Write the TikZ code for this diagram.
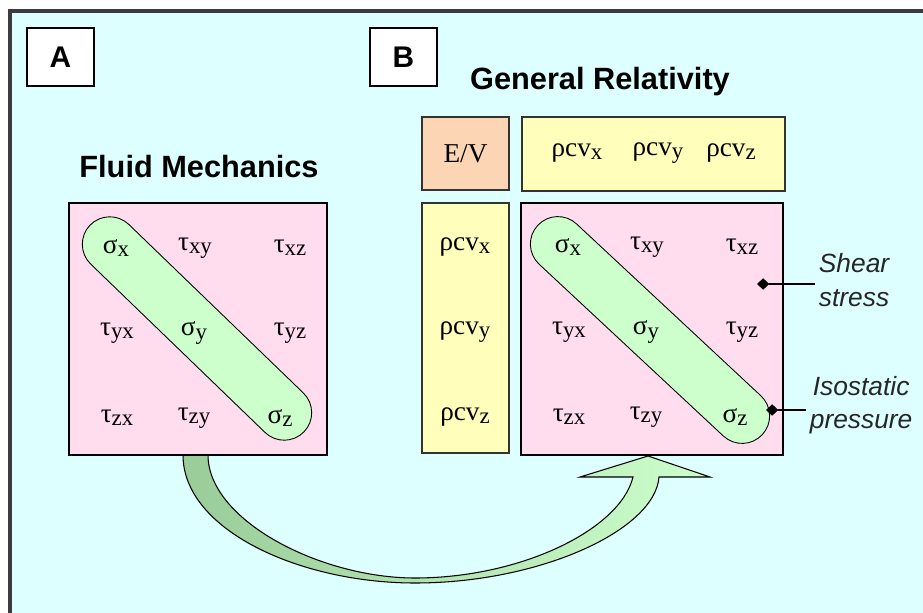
\documentclass[tikz,border=0pt]{standalone}
\usepackage{fontspec}
\setmainfont{Liberation Serif}
\setsansfont{Liberation Sans}
\usepackage{tikz}
\usetikzlibrary{arrows.meta,positioning,calc}
\definecolor{panelcyan} {RGB}{221,255,255}
\definecolor{matpink}   {RGB}{255,221,238}
\definecolor{diaggreen} {RGB}{204,255,204}
\definecolor{arrowgreen}{RGB}{153,204,153}
\definecolor{vecyellow} {RGB}{255,255,187}
\definecolor{enpeach}   {RGB}{252,213,181}
\definecolor{framegray} {RGB}{ 60, 60, 60}
\newcommand{\lowidx}[1]{\raisebox{-0.25ex}{\fontsize{13}{13}\selectfont #1}}

\begin{document}
\begin{tikzpicture}[
  x=0.02cm,y=-0.02cm,
  every node/.style={inner sep=0pt},
  tag/.style={draw=black,fill=white,line width=0.8pt,minimum width=1.34cm,
              minimum height=1.16cm,font=\sffamily\bfseries\fontsize{17}{17}\selectfont},
  title/.style={font=\sffamily\bfseries\fontsize{17.5}{20}\selectfont},
  mat/.style={draw=black,fill=matpink,line width=1.6pt,minimum height=5.04cm},
  vec/.style={draw=black!80,fill=vecyellow,line width=0.7pt},
  pill/.style={draw=black,fill=diaggreen,line width=0.5pt,minimum height=1.1cm,
               rounded corners=0.55cm},
  ent/.style={font=\fontsize{15.5}{17}\selectfont},
  note/.style={font=\sffamily\itshape\fontsize{15}{19}\selectfont,align=center,
               text=black!85,inner sep=2pt},
  callout/.style={{Diamond[length=7pt,width=6.5pt]}-,line width=0.6pt},
]
\clip (0,0) rectangle (923,612);

%% ── Panel ───────────────────────────────────────────────────────────────
\fill[panelcyan] (10,11) rectangle (940,630);
\draw[framegray,line width=1.8pt] (10,11) rectangle (940,630);

\node[tag] (tagA) at (60.5,57) {A};
\node[tag] (tagB) at (403.5,57) {B};
\node[title] (fluid) at (199,167) {Fluid Mechanics};
\node[title] (relat) at (600,82) {General Relativity};

%% ── Curved block arrow A -> B ───────────────────────────────────────────
\shadedraw[left color=arrowgreen,right color=diaggreen,line width=0.6pt]
  (183,455) .. controls (183,530) and (300,583) .. (415,583)
  .. controls (540,583) and (655,530) .. (659,477)
  -- (710,477) -- (648,456) -- (580,477) -- (633,477)
  .. controls (620,530) and (520,578) .. (415,578)
  .. controls (320,578) and (208,520) .. (208,455) -- cycle;

%% ── Case A: stress tensor ───────────────────────────────────────────────
\node[mat,minimum width=5.16cm] (matA) at (198,329) {};
\node[pill,rotate=-44,minimum width=5.95cm] (diagA) at (197,328.5) {};
\node[ent] (Asx)  at (116,248) {σ\lowidx{x}};
\node[ent] (Atxy) at (195,248) {τ\lowidx{xy}};
\node[ent] (Atxz) at (290,248) {τ\lowidx{xz}};
\node[ent] (Atyx) at (117,333) {τ\lowidx{yx}};
\node[ent] (Asy)  at (194,333) {σ\lowidx{y}};
\node[ent] (Atyz) at (290,333) {τ\lowidx{yz}};
\node[ent] (Atzx) at (117,418) {τ\lowidx{zx}};
\node[ent] (Atzy) at (194,418) {τ\lowidx{zy}};
\node[ent] (Asz)  at (280,418) {σ\lowidx{z}};

%% ── Case B: stress-energy tensor ────────────────────────────────────────
\node[vec,fill=enpeach,minimum width=1.74cm,minimum height=1.46cm,ent] (EV) at (465.5,153.5) {E/V};
\node[vec,minimum width=5.26cm,minimum height=1.48cm] (rowvec) at (653.5,154) {};
\node[ent] (Hx) at (577,153) {ρcv\lowidx{x}};
\node[ent] (Hy) at (658,153) {ρcv\lowidx{y}};
\node[ent] (Hz) at (731,153) {ρcv\lowidx{z}};
\node[vec,minimum width=1.74cm,minimum height=5cm] (colvec) at (465.5,328) {};
\node[ent] (Vx) at (465,247) {ρcv\lowidx{x}};
\node[ent] (Vy) at (465,332) {ρcv\lowidx{y}};
\node[ent] (Vz) at (465,417) {ρcv\lowidx{z}};

\node[mat,minimum width=5.24cm] (matB) at (652,329) {};
\node[pill,rotate=-43,minimum width=6.14cm] (diagB) at (650,330) {};
\node[ent] (Bsx)  at (568,247) {σ\lowidx{x}};
\node[ent] (Btxy) at (647,247) {τ\lowidx{xy}};
\node[ent] (Btxz) at (742,247) {τ\lowidx{xz}};
\node[ent] (Btyx) at (569,332) {τ\lowidx{yx}};
\node[ent] (Bsy)  at (646,332) {σ\lowidx{y}};
\node[ent] (Btyz) at (742,332) {τ\lowidx{yz}};
\node[ent] (Btzx) at (569,417) {τ\lowidx{zx}};
\node[ent] (Btzy) at (646,417) {τ\lowidx{zy}};
\node[ent] (Bsz)  at (735,417) {σ\lowidx{z}};

%% Labels
\coordinate (shearpt) at (757,284);
\coordinate (isopt) at (766,410);
\node[note,anchor=west] (shear) at (815,280) {Shear\\stress};
\node[note,anchor=west] (iso) at (806,405) {Isostatic\\pressure};
\draw[callout] (shearpt) -- (shearpt -| shear.west);
\draw[callout] (isopt) -- (isopt -| iso.west);

\end{tikzpicture}
\end{document}
